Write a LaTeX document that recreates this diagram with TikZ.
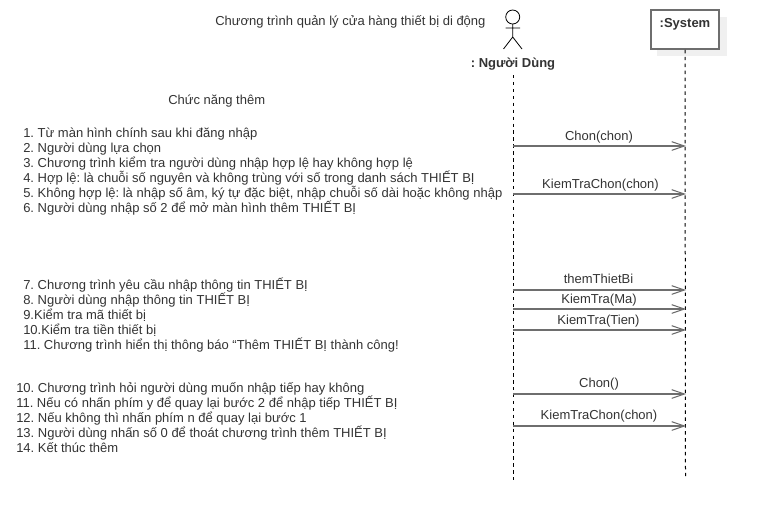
\documentclass[tikz,border=0pt]{standalone}
\usepackage{fontspec}
\setmainfont{Liberation Sans}
\usetikzlibrary{arrows.meta}
\AtBeginDocument{\frenchspacing}
\definecolor{txt}{HTML}{333333}
\definecolor{ln}{HTML}{6E6E6E}
\tikzset{
  x=0.75pt,y=-0.75pt,
  lbl/.style={inner sep=0pt,anchor=base west,font=\fontsize{9.75}{11}\selectfont,text=txt},
  msglbl/.style={inner sep=0pt,anchor=base,font=\fontsize{9.75}{11}\selectfont,text=txt},
  life/.style={black,dash pattern=on 2.6pt off 2.6pt,line width=0.75pt},
  msg/.style={ln,line width=1.2pt,-{Straight Barb[length=9.5pt,width=6.5pt,line width=0.8pt]}},
  sysbox/.style={draw=ln,line width=1.5pt,fill=white,minimum width=51pt,minimum height=29pt,inner sep=0pt},
  stick/.style={black,line width=0.6pt},
}
\begin{document}
\begin{tikzpicture}
\useasboundingbox (0,0) rectangle (759,522);
% title and heading
\node[lbl] (title) at (215,25) {Chương trình quản lý cửa hàng thiết bị di động};
\node[lbl] (head) at (168,104) {Chức năng thêm};
% steps
\node[lbl] (s1) at (23,137) {1. Từ màn hình chính sau khi đăng nhập};
\node[lbl] (s2) at (23,152) {2. Người dùng lựa chọn};
\node[lbl] (s3) at (23,167) {3. Chương trình kiểm tra người dùng nhập hợp lệ hay không hợp lệ};
\node[lbl] (s4) at (23,182) {4. Hợp lệ: là chuỗi số nguyên và không trùng với số trong danh sách THIẾT BỊ};
\node[lbl] (s5) at (23,197) {5. Không hợp lệ: là nhập số âm, ký tự đặc biệt, nhập chuỗi số dài hoặc không nhập};
\node[lbl] (s6) at (23,212) {6. Người dùng nhập số 2 để mở màn hình thêm THIẾT BỊ};
\node[lbl] (s7) at (23,289) {7. Chương trình yêu cầu nhập thông tin THIẾT BỊ};
\node[lbl] (s8) at (23,304) {8. Người dùng nhập thông tin THIẾT BỊ};
\node[lbl] (s9) at (23,319) {9.Kiểm tra mã thiết bị};
\node[lbl] (s10) at (23,334) {10.Kiểm tra tiền thiết bị};
\node[lbl] (s11) at (23,349) {11. Chương trình hiển thị thông báo “Thêm THIẾT BỊ thành công!};
\node[lbl] (t10) at (16,392) {10. Chương trình hỏi người dùng muốn nhập tiếp hay không};
\node[lbl] (t11) at (16,407) {11. Nếu có nhấn phím y để quay lại bước 2 để nhập tiếp THIẾT BỊ};
\node[lbl] (t12) at (16,422) {12. Nếu không thì nhấn phím n để quay lại bước 1};
\node[lbl] (t13) at (16,437) {13. Người dùng nhấn số 0 để thoát chương trình thêm THIẾT BỊ};
\node[lbl] (t14) at (16,452) {14. Kết thúc thêm};
% system object
\fill[black!6] (657,17) rectangle (727,56);
\node[sysbox] (sys) at (685,29.5) {};
\node[inner sep=0pt,anchor=base,font=\bfseries\fontsize{9.75}{11}\selectfont,text=txt] (systxt) at (685,27) {:System};
% actor
\coordinate (head0) at (512.7,17);
\draw[stick] (head0) circle (7);
\coordinate (neck) at (512.7,24);
\coordinate (hip) at (512.7,37);
\coordinate (armL) at (505.5,28);
\coordinate (armR) at (520,28);
\coordinate (legL) at (503.5,49);
\coordinate (legR) at (522,49);
\draw[stick] (neck) -- (hip) (armL) -- (armR) (legL) -- (hip) -- (legR);
\node[inner sep=0pt,anchor=base,font=\bfseries\fontsize{9.75}{11}\selectfont,text=txt] (user) at (513,67) {: Người Dùng};
% lifelines
\coordinate (u0) at (513,75);
\coordinate (u1) at (513,480);
\coordinate (v1) at (685.5,479);
\draw[life] (u0) -- (u1);
\draw[life] (sys.south) -- (v1);
% messages
\foreach \n/\y in {a/146,b/194,c/290,d/309,e/330,f/394,g/426}{
  \coordinate (u\n) at (513,\y);
  \coordinate (v\n) at (686,\y);
  \draw[msg] (u\n) -- (v\n);
}
\node[msglbl] (ma) at (599,140) {Chon(chon)};
\node[msglbl] (mb) at (600.5,188) {KiemTraChon(chon)};
\node[msglbl] (mc) at (598.5,283) {themThietBi};
\node[msglbl] (md) at (599,303) {KiemTra(Ma)};
\node[msglbl] (me) at (598.5,324) {KiemTra(Tien)};
\node[msglbl] (mf) at (599,387) {Chon()};
\node[msglbl] (mg) at (599,419) {KiemTraChon(chon)};
\end{tikzpicture}
\end{document}
